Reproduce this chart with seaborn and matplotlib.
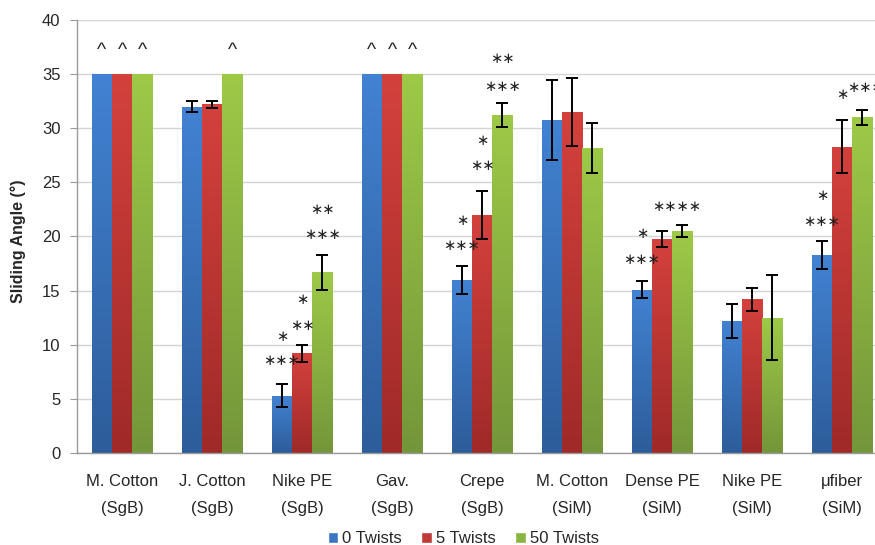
import numpy as np
import pandas as pd
import matplotlib
matplotlib.use("Agg")
import matplotlib.pyplot as plt
import matplotlib.colors as mcolors
import seaborn as sns

# categories and series
fabrics = ["M. Cotton\n(SgB)", "J. Cotton\n(SgB)", "Nike PE\n(SgB)", "Gav.\n(SgB)",
           "Crepe\n(SgB)", "M. Cotton\n(SiM)", "Dense PE\n(SiM)", "Nike PE\n(SiM)",
           "\u03bcfiber\n(SiM)"]
twists = ["0 Twists", "5 Twists", "50 Twists"]

angle_0 = [35, 32.0, 5.3, 35, 16.0, 30.8, 15.1, 12.2, 18.3]
angle_5 = [35, 32.2, 9.2, 35, 22.0, 31.5, 19.8, 14.2, 28.3]
angle_50 = [35, 35, 16.7, 35, 31.2, 28.2, 20.5, 12.5, 31.0]

err_0 = [0, 0.5, 1.05, 0, 1.3, 3.7, 0.8, 1.6, 1.3]
err_5 = [0, 0.3, 0.8, 0, 2.2, 3.1, 0.75, 1.05, 2.45]
err_50 = [0, 0, 1.6, 0, 1.1, 2.3, 0.55, 3.95, 0.7]

# significance marks: (fabric index, twist slot, height, text)
stars = [
    (2, 0, 8.5, "***"), (2, 0, 10.8, "*"),
    (2, 1, 11.8, "**"), (2, 1, 14.2, "*"),
    (2, 2, 20.2, "***"), (2, 2, 22.5, "**"),
    (4, 0, 19.2, "***"), (4, 0, 21.5, "*"),
    (4, 1, 26.6, "**"), (4, 1, 28.9, "*"),
    (4, 2, 33.9, "***"), (4, 2, 36.4, "**"),
    (6, 0, 17.9, "***"), (6, 0, 20.3, "*"),
    (6, 1.75, 22.8, "****"),
    (8, 0, 21.4, "***"), (8, 0, 23.8, "*"),
    (8, 1, 33.1, "*"), (8, 2.15, 33.8, "***"),
]
# bars capped at the maximum measurable angle
capped = [(0, 0), (0, 1), (0, 2), (1, 2), (3, 0), (3, 1), (3, 2)]
caret_y = 37.2

colors = ["#3a76c2", "#c03936", "#8ab440"]
colors_top = ["#4282d2", "#d4413d", "#9dc947"]
colors_bottom = ["#2d5d9a", "#9f2a28", "#74963a"]

df = pd.DataFrame({
    "fabric": fabrics * 3,
    "twist": np.repeat(twists, len(fabrics)),
    "angle": angle_0 + angle_5 + angle_50,
})
errs = [err_0, err_5, err_50]

sns.set_style("white")
plt.rcParams["font.family"] = ["Liberation Sans", "DejaVu Sans"]

fig = plt.figure(figsize=(8.75, 5.45), dpi=100)
ax = fig.add_axes([77 / 875, 92 / 545, 798 / 875, 433 / 545])

sns.barplot(data=df, x="fabric", y="angle", hue="twist", palette=colors,
            width=0.67, errorbar=None, saturation=1, ax=ax, zorder=2)

bar_groups = list(ax.containers)

def slot_x(i, k):
    # centre of bar k in group i; fractional k falls between bars
    b0 = bar_groups[0][i]
    return b0.get_x() + b0.get_width() * (k + 0.5)

for k, cont in enumerate(bar_groups):
    # Excel-like vertical shading on each bar
    top = np.array(mcolors.to_rgb(colors_top[k]))
    bot = np.array(mcolors.to_rgb(colors_bottom[k]))
    grad = np.linspace(0, 1, 64)[:, None, None]
    img = top * (1 - grad) + bot * grad
    for i, bar in enumerate(cont):
        bar.set_linewidth(0)
        x0, w, h = bar.get_x(), bar.get_width(), bar.get_height()
        im = ax.imshow(img, extent=[x0, x0 + w, 0, h], aspect="auto",
                       origin="upper", zorder=2.1, interpolation="bilinear")
        im.set_clip_path(bar)
        if errs[k][i] > 0:
            ax.errorbar(x0 + w / 2, h, yerr=errs[k][i], fmt="none",
                        ecolor="black", elinewidth=1.4, capsize=4, capthick=1.4,
                        zorder=3)

for i, k, y, s in stars:
    ax.text(slot_x(i, k), y, s.replace("*", "\u2217"), ha="center", va="center",
            fontsize=10.5, family="DejaVu Sans", color="#222222", zorder=4)
for i, k in capped:
    ax.text(slot_x(i, k), caret_y, "^", ha="center", va="center",
            fontsize=14, color="#222222", zorder=4)

ax.set_ylim(0, 40)
ax.set_xlim(-0.5, -0.5 + 798 / 90)
ax.set_yticks(np.arange(0, 41, 5))
ax.yaxis.grid(True, color="#d4d4d4", linewidth=1, zorder=0)
ax.set_axisbelow(True)

for side in ["top", "right"]:
    ax.spines[side].set_visible(False)
for side in ["left", "bottom"]:
    ax.spines[side].set_color("#9a9a9a")
    ax.spines[side].set_linewidth(1)

ax.set_xticks(np.arange(len(fabrics)))
ax.set_xticklabels(fabrics, linespacing=2.05)
ax.set_xticks(np.arange(len(fabrics)) - 0.5, minor=True)
ax.tick_params(axis="x", which="major", length=0, pad=15, labelsize=12)
ax.tick_params(axis="x", which="minor", length=5, color="#9a9a9a", direction="out")
ax.tick_params(axis="y", length=5, color="#9a9a9a", direction="out", pad=7,
               labelsize=12, left=True)

ax.set_xlabel("")
ax.set_ylabel("Sliding Angle (\u00b0)", fontsize=11.5, fontweight="bold")
ax.yaxis.set_label_coords(-0.064, 0.49)

handles, labels = ax.get_legend_handles_labels()
ax.legend(handles, labels, loc="lower center", bbox_to_anchor=(463 / 875, -0.014),
          bbox_transform=fig.transFigure, ncol=3, frameon=False, fontsize=12,
          handlelength=0.65, handleheight=0.65, handletextpad=0.2, columnspacing=1.2,
          borderaxespad=0.0)

fig.savefig("out.png", dpi=100)
